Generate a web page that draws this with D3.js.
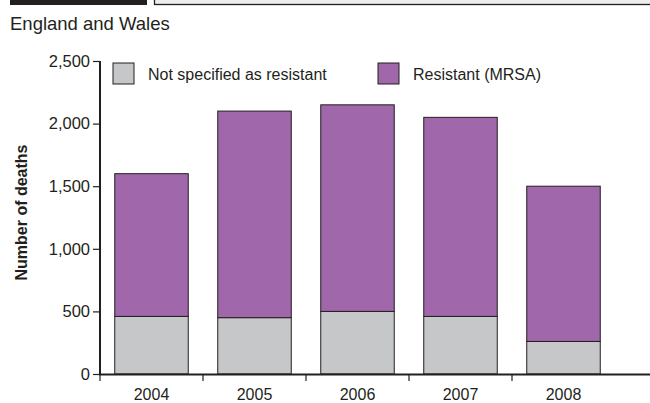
<!DOCTYPE html>
<html>
<head>
<meta charset="utf-8">
<script src="https://cdn.jsdelivr.net/npm/d3@7/dist/d3.min.js"></script>
<style>
  html, body { margin: 0; padding: 0; background: #fff; }
  svg { display: block; font-family: "Liberation Sans", Arial, sans-serif; }
</style>
</head>
<body>
<svg id="chart" width="650" height="403"></svg>
<script>
// Deaths involving Staphylococcus aureus, England and Wales
const years = ["2004", "2005", "2006", "2007", "2008"];
const notSpecified = [460, 450, 500, 460, 260];
const resistant = [1140, 1650, 1650, 1590, 1240];
const yTicks = [0, 500, 1000, 1500, 2000, 2500];
const seriesNames = ["Not specified as resistant", "Resistant (MRSA)"];
const seriesKeys = ["notSpecified", "resistant"];

const colors = { notSpecified: "#c6c7c9", resistant: "#a067aa" };
const ink = "#231f20";

const rows = years.map((yr, i) => ({ year: yr, notSpecified: notSpecified[i], resistant: resistant[i] }));
const stacked = d3.stack().keys(seriesKeys)(rows);

const svg = d3.select("#chart");

// Header strip
svg.append("rect").attr("x", 10).attr("y", 0).attr("width", 137).attr("height", 5).attr("fill", ink);
svg.append("rect").attr("x", 154.5).attr("y", -2).attr("width", 510).attr("height", 6.5)
  .attr("fill", "#ededee").attr("stroke", ink).attr("stroke-width", 1.3);

svg.append("text").attr("x", 10).attr("y", 30)
  .attr("font-size", 18.5).attr("fill", ink).text("England and Wales");

// Scales
const x = d3.scaleBand().domain(years).range([100, 615])
  .paddingInner(0.2864).paddingOuter(0.1432);
const y = d3.scaleLinear().domain([0, 2500]).range([374, 61]);

// Bars
svg.append("g").selectAll("g").data(stacked).join("g")
  .attr("fill", d => colors[d.key])
  .selectAll("rect").data(d => d).join("rect")
  .attr("x", d => x(d.data.year))
  .attr("width", x.bandwidth())
  .attr("y", d => y(d[1]))
  .attr("height", d => y(d[0]) - y(d[1]))
  .attr("stroke", ink).attr("stroke-width", 1);

// Y axis
const yAxis = svg.append("g").attr("transform", "translate(100,0)")
  .call(d3.axisLeft(y).tickValues(yTicks).tickFormat(d3.format(",")).tickSize(7).tickPadding(3));
yAxis.select(".domain").attr("stroke", ink).attr("stroke-width", 2).attr("d", `M0,${y(2500)}V${y(0) + 1}`);
yAxis.selectAll(".tick line").attr("stroke", ink).attr("stroke-width", 1.2);
yAxis.selectAll(".tick text").attr("font-size", 16.5).attr("fill", ink)
  .attr("font-family", "'Liberation Sans', Arial, sans-serif");

// X axis with ticks between categories
const xBase = y(0);
svg.append("line").attr("x1", 99).attr("x2", 650).attr("y1", xBase + 0.5).attr("y2", xBase + 0.5)
  .attr("stroke", ink).attr("stroke-width", 2.2);
const gap = (x.step() - x.bandwidth()) / 2;
svg.append("g").selectAll("line").data(years).join("line")
  .attr("x1", d => x(d) - gap).attr("x2", d => x(d) - gap)
  .attr("y1", xBase).attr("y2", xBase + 7)
  .attr("stroke", ink).attr("stroke-width", 1.2);
svg.append("g").selectAll("text").data(years).join("text")
  .attr("x", d => x(d) + x.bandwidth() / 2).attr("y", 400)
  .attr("text-anchor", "middle").attr("font-size", 16).attr("fill", ink)
  .text(d => d);

// Y axis title
svg.append("text")
  .attr("transform", `translate(27,${(y(0) + y(2500)) / 2 - 5}) rotate(-90)`)
  .attr("text-anchor", "middle").attr("font-size", 16).attr("font-weight", "bold").attr("fill", ink)
  .text("Number of deaths");

// Legend
const legendX = [113, 378];
const lg = svg.append("g").selectAll("g").data(seriesKeys).join("g")
  .attr("transform", (d, i) => `translate(${legendX[i]},63)`);
lg.append("rect").attr("width", 21).attr("height", 21)
  .attr("fill", d => colors[d]).attr("stroke", ink).attr("stroke-width", 1);
lg.append("text").attr("x", 35).attr("y", 16.5).attr("font-size", 16).attr("fill", ink)
  .text((d, i) => seriesNames[i]);
</script>
</body>
</html>
